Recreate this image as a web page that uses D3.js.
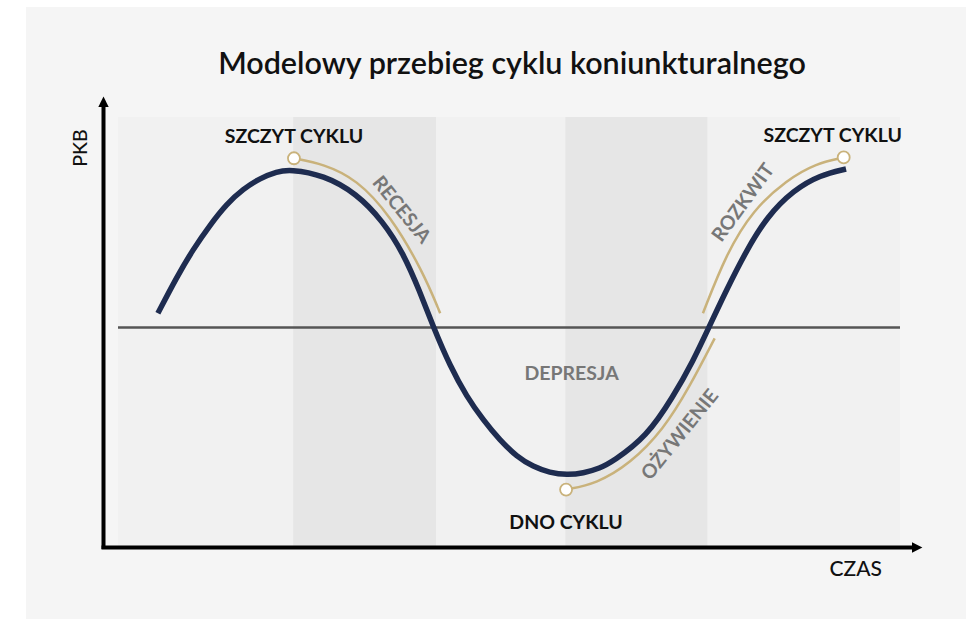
<!DOCTYPE html>
<html>
<head>
<style>
  body {
    margin: 0;
    background-color: #ffffff;
  }

  text {
    font-family: Lato, 'Open Sans', sans-serif;
  }
</style>
  <script src="https://d3js.org/d3.v7.min.js"></script>
</head>
<body>
<script>
// model business cycle - GDP over time

// phases shown as vertical bands (time units 0 - 100)
const phases = [
  { name: 'start', from: 0, to: 22.4 },
  { name: 'recesja', from: 22.4, to: 40.7 },
  { name: 'depresja', from: 40.7, to: 57.2 },
  { name: 'ozywienie', from: 57.2, to: 75.4 },
  { name: 'rozkwit', from: 75.4, to: 100 },
];

// main GDP curve (time, gdp deviation)
const cycleTime = [5.1, 7.5, 9.6, 11.8, 13.9, 16.0, 18.2, 20.3, 22.0, 26.3, 30.5, 33.9, 36.5, 38.6, 40.3,
  42.5, 44.6, 46.7, 48.8, 51.0, 53.1, 55.2, 57.4, 59.5, 61.6, 63.3, 67.6, 71.0, 73.6, 75.4,
  77.8, 80.4, 83.0, 86.4, 89.8, 93.1];
const cycleGdp = [8.9, 31.5, 49.0, 64.5, 77.5, 86.8, 93.7, 97.7, 99.2, 95.6, 84.1, 66.5, 46.5, 22.5, 0.5,
  -24.6, -43.4, -58.0, -70.5, -81.0, -87.3, -91.0, -92.5, -91.4, -88.3, -84.0, -68.5, -43.4, -20.4, -1.6,
  23.5, 48.6, 69.5, 86.2, 95.6, 99.4];

// gold phase arcs
const recesjaTime = [22.5, 26.3, 30.5, 34.8, 39.0, 41.2];
const recesjaGdp = [106.1, 102.5, 93.0, 70.5, 35.0, 8.9];

const ozywienieTime = [57.3, 61.2, 65.5, 69.7, 73.1, 76.3];
const ozywienieGdp = [-101.6, -97.9, -85.3, -64.4, -37.2, -6.8];

const rozkwitTime = [74.8, 77.8, 81.2, 85.5, 89.3, 92.8];
const rozkwitGdp = [8.9, 46.5, 73.7, 92.5, 103.0, 106.6];

// turning points (peak, trough, peak)
const turningLabels = ['SZCZYT CYKLU', 'DNO CYKLU', 'SZCZYT CYKLU'];
const turningTime = [22.5, 57.3, 92.8];
const turningGdp = [106.1, -101.6, 106.6];

const width = 966;
const height = 619;

const svg = d3.select('body')
  .append('svg')
  .attr('width', width)
  .attr('height', height);

// card background
svg.append('rect')
  .attr('x', 26)
  .attr('y', 7)
  .attr('width', width - 26)
  .attr('height', height - 7)
  .attr('fill', '#f5f5f5');

const plot = { left: 118, right: 900, top: 117, bottom: 547 };

const x = d3.scaleLinear().domain([0, 100]).range([plot.left, plot.right]);
const y = d3.scaleLinear().domain([-100, 100]).range([487, 168]);

// bands
svg.selectAll('.band')
  .data(phases)
  .enter()
  .append('rect')
  .attr('class', 'band')
  .attr('x', d => x(d.from))
  .attr('y', plot.top)
  .attr('width', d => x(d.to) - x(d.from))
  .attr('height', plot.bottom - plot.top)
  .attr('fill', (d, i) => i % 2 ? '#e6e6e6' : '#f1f1f1');

// zero line
svg.append('line')
  .attr('x1', x(0))
  .attr('x2', x(100))
  .attr('y1', y(0))
  .attr('y2', y(0))
  .attr('stroke', '#555')
  .attr('stroke-width', 2.5);

const line = d3.line()
  .x(d => x(d[0]))
  .y(d => y(d[1]))
  .curve(d3.curveBasis);

const zip = (a, b) => a.map((v, i) => [v, b[i]]);

// gold arcs
[[recesjaTime, recesjaGdp], [ozywienieTime, ozywienieGdp], [rozkwitTime, rozkwitGdp]].forEach(arc => {
  svg.append('path')
    .attr('d', line(zip(arc[0], arc[1])))
    .attr('fill', 'none')
    .attr('stroke', '#c9b27b')
    .attr('stroke-width', 2.5);
});

// main curve
svg.append('path')
  .attr('d', line(zip(cycleTime, cycleGdp)))
  .attr('fill', 'none')
  .attr('stroke', '#1e2c50')
  .attr('stroke-width', 5.5)
  .attr('stroke-linecap', 'butt');

// turning point markers
svg.selectAll('.turn')
  .data(turningTime)
  .enter()
  .append('circle')
  .attr('class', 'turn')
  .attr('cx', d => x(d))
  .attr('cy', (d, i) => y(turningGdp[i]))
  .attr('r', 6)
  .attr('fill', '#fff')
  .attr('stroke', '#c9b27b')
  .attr('stroke-width', 1.8);

// the last label sits a bit left of its marker, as in the original
svg.selectAll('.turn-label')
  .data(turningLabels)
  .enter()
  .append('text')
  .attr('class', 'turn-label')
  .attr('x', (d, i) => x(turningTime[i]) + (i === 2 ? -11 : 0))
  .attr('y', (d, i) => y(turningGdp[i]) + (turningGdp[i] > 0 ? -15 : 39))
  .attr('text-anchor', 'middle')
  .attr('font-size', 19.5)
  .attr('font-weight', 700)
  .attr('fill', '#111')
  .text(d => d);

// phase names
const phaseText = (label, t, g, angle) => {
  svg.append('text')
    .attr('transform', `translate(${x(t)},${y(g)}) rotate(${angle})`)
    .attr('text-anchor', 'middle')
    .attr('dy', '0.35em')
    .attr('font-size', 19.5)
    .attr('font-weight', 700)
    .attr('fill', '#777')
    .text(label);
};

phaseText('RECESJA', 36.3, 74, 51);
phaseText('DEPRESJA', 58, -28.8, 0);
phaseText('OŻYWIENIE', 71.8, -67, -51);
phaseText('ROZKWIT', 79.9, 78.5, -54);

// axes with arrows
svg.append('defs')
  .append('marker')
  .attr('id', 'arrow')
  .attr('viewBox', '0 0 10 10')
  .attr('refX', 0)
  .attr('refY', 5)
  .attr('markerWidth', 4.2)
  .attr('markerHeight', 2.6)
  .attr('orient', 'auto')
  .attr('markerUnits', 'strokeWidth')
  .append('path')
  .attr('d', 'M0,0 L10,5 L0,10 Z')
  .attr('fill', '#000');

svg.append('line')
  .attr('x1', 103.5)
  .attr('y1', plot.bottom + 2)
  .attr('x2', 103.5)
  .attr('y2', 107)
  .attr('stroke', '#000')
  .attr('stroke-width', 4)
  .attr('marker-end', 'url(#arrow)');

svg.append('line')
  .attr('x1', 101.5)
  .attr('y1', plot.bottom + 0.5)
  .attr('x2', 912)
  .attr('y2', plot.bottom + 0.5)
  .attr('stroke', '#000')
  .attr('stroke-width', 4)
  .attr('marker-end', 'url(#arrow)');

svg.append('text')
  .attr('transform', 'translate(87,148) rotate(-90)')
  .attr('text-anchor', 'middle')
  .attr('font-size', 19.5)
  .attr('font-weight', 500)
  .attr('fill', '#111')
  .text('PKB');

svg.append('text')
  .attr('x', 882)
  .attr('y', 576)
  .attr('text-anchor', 'end')
  .attr('font-size', 21)
  .attr('font-weight', 500)
  .attr('fill', '#111')
  .text('CZAS');

// title
svg.append('text')
  .attr('x', 512)
  .attr('y', 74)
  .attr('text-anchor', 'middle')
  .attr('font-size', 30.5)
  .attr('font-weight', 600)
  .attr('fill', '#111')
  .text('Modelowy przebieg cyklu koniunkturalnego');
</script>
</body>
</html>
